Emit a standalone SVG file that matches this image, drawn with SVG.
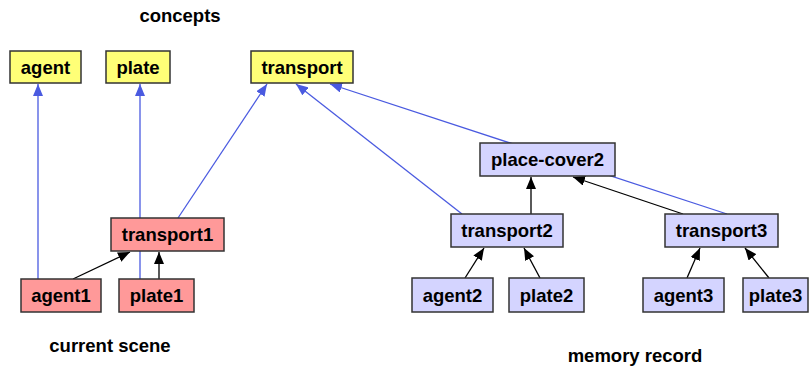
<svg xmlns="http://www.w3.org/2000/svg" width="809" height="369" viewBox="0 0 809 369">
  <style>
    text { font-family: "Liberation Sans", Arial, sans-serif; font-weight: bold; font-size: 18.5px; fill: #000; text-anchor: middle; }
    .box { stroke: #333; stroke-width: 1.5; }
    .concept { fill: #ffff77; }
    .scene { fill: #ff9999; }
    .memory { fill: #d4d4ff; }
    .isa { stroke: #4a5ae0; stroke-width: 1.3; fill: none; marker-end: url(#blueHead); }
    .part { stroke: #000; stroke-width: 1.3; fill: none; marker-end: url(#blackHead); }
  </style>
  <defs>
    <marker id="blueHead" viewBox="0 0 12 10" refX="12" refY="5" markerWidth="12" markerHeight="10" markerUnits="userSpaceOnUse" orient="auto">
      <path d="M0,0 L12,5 L0,10 Z" fill="#4a5ae0"/>
    </marker>
    <marker id="blackHead" viewBox="0 0 12 10" refX="12" refY="5" markerWidth="12" markerHeight="10" markerUnits="userSpaceOnUse" orient="auto">
      <path d="M0,0 L12,5 L0,10 Z" fill="#000"/>
    </marker>
  </defs>

  <!-- section captions -->
  <text x="180" y="22">concepts</text>
  <text x="110" y="352">current scene</text>
  <text x="635" y="362">memory record</text>

  <!-- connectors -->
  <g id="connectors">
    <line class="isa" x1="38" y1="279" x2="38" y2="84"/>
    <line class="isa" x1="140" y1="279" x2="140" y2="84"/>
    <line class="isa" x1="178" y1="218" x2="267" y2="84"/>
    <line class="isa" x1="462" y1="214" x2="296" y2="84"/>
    <line class="isa" x1="727" y1="214" x2="330" y2="84"/>
    <line class="part" x1="73" y1="279" x2="130" y2="252"/>
    <line class="part" x1="159" y1="279" x2="159" y2="252"/>
    <line class="part" x1="531" y1="214" x2="531" y2="177"/>
    <line class="part" x1="683" y1="214" x2="573" y2="177"/>
    <line class="part" x1="465" y1="278" x2="484" y2="248"/>
    <line class="part" x1="540" y1="278" x2="524" y2="248"/>
    <line class="part" x1="687" y1="278" x2="700" y2="248"/>
    <line class="part" x1="769" y1="278" x2="745" y2="248"/>
  </g>

  <!-- concept nodes -->
  <g id="agent"><rect class="box concept" x="10" y="51" width="71" height="32"/><text x="45.5" y="73.5">agent</text></g>
  <g id="plate"><rect class="box concept" x="106" y="51" width="64" height="32"/><text x="138" y="73.5">plate</text></g>
  <g id="transport"><rect class="box concept" x="251" y="51" width="102" height="32"/><text x="302" y="73.5">transport</text></g>

  <!-- current scene nodes -->
  <g id="transport1"><rect class="box scene" x="111" y="218" width="113" height="33"/><text x="167.5" y="241">transport1</text></g>
  <g id="agent1"><rect class="box scene" x="21" y="279" width="80" height="33"/><text x="61" y="302">agent1</text></g>
  <g id="plate1"><rect class="box scene" x="119" y="279" width="75" height="33"/><text x="156.5" y="302">plate1</text></g>

  <!-- memory record nodes -->
  <g id="place-cover2"><rect class="box memory" x="480" y="143" width="135" height="33"/><text x="547.5" y="166">place-cover2</text></g>
  <g id="transport2"><rect class="box memory" x="451" y="214" width="112" height="33"/><text x="507" y="237">transport2</text></g>
  <g id="transport3"><rect class="box memory" x="665" y="214" width="113" height="33"/><text x="721.5" y="237">transport3</text></g>
  <g id="agent2"><rect class="box memory" x="412" y="278" width="81" height="34"/><text x="452.5" y="302">agent2</text></g>
  <g id="plate2"><rect class="box memory" x="509" y="278" width="75" height="34"/><text x="546.5" y="302">plate2</text></g>
  <g id="agent3"><rect class="box memory" x="643" y="278" width="81" height="34"/><text x="683.5" y="302">agent3</text></g>
  <g id="plate3"><rect class="box memory" x="743" y="278" width="65" height="34"/><text x="775.5" y="302">plate3</text></g>
</svg>
